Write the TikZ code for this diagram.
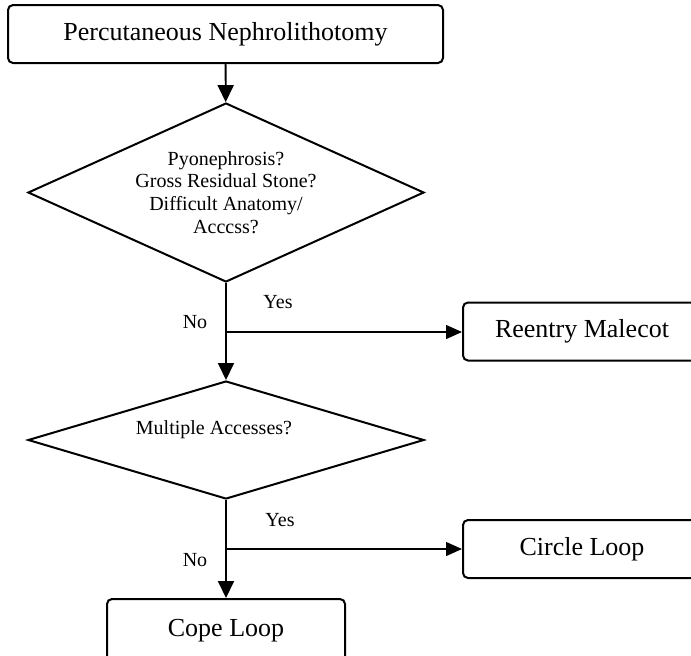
\documentclass[tikz,border=0pt]{standalone}
\usepackage{fontspec}
\setmainfont{Liberation Serif}
\usepackage{tikz}
\usetikzlibrary{shapes.geometric, arrows.meta, positioning, calc}
\tikzset{
  block/.style={rectangle, draw=black, fill=white,
    minimum width=119pt, minimum height=29pt, align=center,
    font=\fontsize{13}{15}\selectfont, rounded corners=2.5pt, line width=1pt},
  decision/.style={diamond, draw=black, inner sep=0pt, aspect=2.2,
    minimum width=198pt, align=center,
    font=\fontsize{10}{11.4}\selectfont, line width=1pt},
  arrow/.style={-{Triangle[length=8.5pt, width=8pt]}, line width=0.9pt, color=black},
  sidearrow/.style={-{Triangle[length=8pt, width=7pt]}, line width=0.6pt, color=black},
  lbl/.style={font=\fontsize{10}{12}\selectfont}
}
\begin{document}
\begin{tikzpicture}[x=0.5pt, y=-0.5pt]
  \useasboundingbox (0,0) rectangle (691,655);
  % Main column
  \node[block, minimum width=217.5pt] (pcnl) at (225.5,34) {Percutaneous Nephrolithotomy};
  \node[decision, minimum height=89.5pt] (anat) at (226,192.5)
    {Pyonephrosis?\\Gross Residual Stone?\\Difficult Anatomy/\\Acccss?};
  \node[decision, minimum height=59pt] (multi) at (226,440) {};
  \node[lbl] (multitxt) at (214,430) {Multiple Accesses?};
  \node[block, minimum height=32pt] (cope) at (226,631) {\raisebox{3pt}{Cope Loop}};
  % Side boxes
  \node[block] (reentry) at (582,331.5) {Reentry Malecot};
  \node[block] (circle) at (582,549) {Circle Loop};
  % Branch points
  \coordinate (split1) at (226,332);
  \coordinate (split2) at (226,549);
  % Connectors
  \draw[arrow] (pcnl) -- (anat);
  \draw[arrow] (anat) -- (multi);
  \draw[arrow] (multi) -- (cope);
  \draw[sidearrow] (split1) -- (split1 -| reentry.west);
  \draw[sidearrow] (split2) -- (split2 -| circle.west);
  % Yes / No labels
  \node[lbl] (yes1) at (278,302) {Yes};
  \node[lbl] (no1) at (195,322) {No};
  \node[lbl] (yes2) at (280,520) {Yes};
  \node[lbl] (no2) at (195,560) {No};
\end{tikzpicture}
\end{document}
